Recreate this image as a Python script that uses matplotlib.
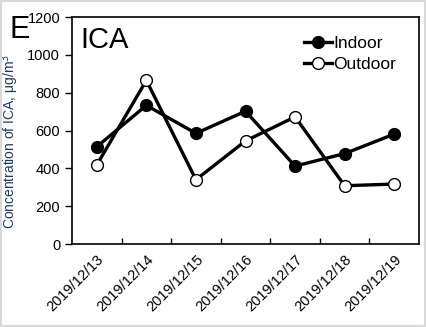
import numpy as np
import matplotlib.pyplot as plt

plt.rcParams['font.family'] = ['Liberation Sans', 'DejaVu Sans']

dates = ["2019/12/13", "2019/12/14", "2019/12/15", "2019/12/16",
         "2019/12/17", "2019/12/18", "2019/12/19"]
indoor = [514, 733, 585, 702, 412, 478, 581]
outdoor = [418, 865, 340, 545, 672, 308, 317]

x = np.arange(len(dates))

fig = plt.figure(figsize=(4.27, 3.27), dpi=100)
ax = fig.add_axes([0.1686, 0.2538, 0.8127, 0.6942])

ax.plot(x, indoor, color='black', lw=2.4, marker='o', ms=8.5,
        mfc='black', mec='black', mew=1, label='Indoor')
ax.plot(x, outdoor, color='black', lw=2.4, marker='o', ms=8.5,
        mfc='white', mec='black', mew=1, label='Outdoor')

ax.set_xlim(-0.5, len(dates) - 0.5)
ax.set_ylim(0, 1200)
ax.set_yticks(range(0, 1201, 200))
ax.set_xticks(x)
ax.set_xticklabels(dates, rotation=45, ha='right', rotation_mode='anchor', fontsize=10.5)
ax.set_xticks(x[:-1] + 0.5, minor=True)
ax.tick_params(axis='x', which='major', length=0, pad=6)
ax.tick_params(axis='x', which='minor', direction='in', length=4, width=1)
ax.tick_params(axis='y', direction='out', length=5, width=1, labelsize=10.5)
for s in ax.spines.values():
    s.set_linewidth(1.2)

ax.set_ylabel('Concentration of ICA, μg/m$^3$', fontsize=10, color='#1f3864')
ax.yaxis.set_label_coords(-0.147, 0.45)

ax.text(0.025, 0.96, 'ICA', transform=ax.transAxes, fontsize=21, va='top', ha='left')
fig.text(0.022, 0.955, 'E', fontsize=22, va='top', ha='left')

ax.legend(loc='upper right', bbox_to_anchor=(0.97, 0.97), frameon=False,
          fontsize=12.5, handlelength=1.6, handletextpad=0.1, labelspacing=0.35,
          borderpad=0.2)

# light grey frame round the figure
fig.patches.append(plt.Rectangle((0.002, 0.003), 0.994, 0.994, transform=fig.transFigure,
                                 fill=False, ec='#d9d9d9', lw=1.5))

fig.savefig('out.png', dpi=100)
